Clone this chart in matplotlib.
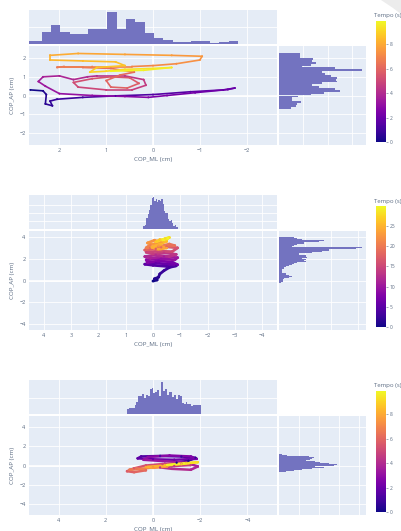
import numpy as np
import matplotlib.pyplot as plt
from matplotlib.collections import LineCollection
from matplotlib.patches import Polygon

plt.rcParams['font.family'] = ['Open Sans', 'DejaVu Sans']

W, H = 401, 531
BG = '#e5ecf6'
BAR = '#7373c0'
TXT = '#5b6b82'

# ---- panel 1 : COP trajectory (time s, ML cm, AP cm)
t1 = [0.0, 0.2, 0.35, 0.5, 0.6, 0.7, 0.8, 1.0, 1.2, 1.4,
      1.6, 1.8, 1.9, 2.0, 2.2, 2.4, 2.6, 2.8, 3.0, 3.2,
      3.3, 3.45, 3.6, 3.75, 3.9, 4.0, 4.1, 4.3, 4.5, 4.6,
      4.75, 4.9, 5.05, 5.15, 5.3, 5.45, 5.6, 5.7, 5.8, 5.9,
      6.0, 6.1, 6.2, 6.3, 6.45, 6.6, 6.7, 6.8, 6.95, 7.05,
      7.2, 7.35, 7.45, 7.6, 7.8, 8.0, 8.15, 8.25, 8.4, 8.55,
      8.65, 8.8, 8.95, 9.1, 9.25, 9.4, 9.55, 9.7, 9.9]
ml1 = [2.62, 2.35, 2.28, 2.30, 2.15, 2.20, 2.05, 1.50, 0.80, 0.00,
       -0.80, -1.50, -1.75, -1.60, -0.90, -0.30, 0.10, 0.60, 1.30, 2.00,
       2.30, 2.45, 2.35, 2.00, 1.70, 1.40, 1.20, 0.60, 0.20, 0.15,
       0.45, 1.00, 1.60, 1.70, 1.30, 0.90, 0.50, 0.30, 0.55, 0.90,
       1.00, 0.70, 0.40, 0.90, 1.50, 2.05, 1.90, 1.30, 0.45, 0.00,
       -0.50, -1.00, -1.05, -0.40, 0.60, 1.60, 2.20, 2.20, 1.50, 0.80,
       0.60, 1.20, 1.35, 1.00, 0.60, 0.00, -0.40, 0.20, 0.90]
ap1 = [0.30, 0.25, 0.05, -0.45, -0.55, -0.30, -0.20, -0.10, -0.02, 0.05,
       0.20, 0.30, 0.40, 0.32, 0.15, 0.00, -0.10, -0.05, 0.00, 0.10,
       0.50, 0.75, 1.00, 1.05, 0.85, 1.00, 1.05, 1.05, 0.85, 0.55,
       0.30, 0.30, 0.45, 0.70, 0.90, 1.00, 0.95, 0.65, 0.40, 0.45,
       0.80, 1.10, 1.25, 1.45, 1.50, 1.50, 1.55, 1.55, 1.55, 1.60,
       1.70, 1.90, 2.10, 2.15, 2.20, 2.25, 2.15, 1.90, 1.85, 1.80,
       1.60, 1.50, 1.25, 1.30, 1.40, 1.45, 1.50, 1.35, 1.30]
# marginal histograms (first bin edge, bin width, counts)
ml1_edge, ml1_bw = 2.78, -0.2
ml1_counts = [8, 8, 35, 55, 36, 30, 30, 43, 43, 96, 45, 75, 64, 32, 17, 12,
              7, 7, 10, 10, 4, 5, 9]
ap1_edge, ap1_bw = 2.3, -0.1
ap1_counts = [17, 17, 17, 28, 27, 30, 26, 19, 46, 68, 35, 38, 43, 48, 47,
              48, 35, 27, 33, 46, 50, 37, 26, 16, 11, 11, 18, 15, 14, 10]

# ---- panel 2
t2 = [0.0, 0.5, 1.0, 1.5, 2.0, 2.5, 3.0, 3.5, 4.0, 4.5,
      5.0, 5.5, 6.0, 6.5, 7.0, 7.5, 8.0, 8.5, 9.0, 9.5,
      10.0, 10.5, 11.0, 11.5, 12.0, 12.5, 13.0, 13.5, 14.0, 14.5,
      15.0, 15.5, 16.0, 16.5, 17.0, 17.5, 18.0, 18.5, 19.0, 19.5,
      20.0, 20.5, 21.0, 21.5, 22.0, 22.5, 23.0, 23.5, 24.0, 24.5,
      25.0, 25.5, 26.0, 26.5, 27.0, 27.5, 28.0, 28.5, 29.0, 29.9]
ml2 = [0.0, -0.15, -0.05, -0.2, -0.25, -0.4, -0.6, -0.85, -0.5, 0.0,
       0.3, -0.1, -0.6, -0.9, -0.7, -0.2, 0.2, 0.25, -0.3, -0.8,
       -0.9, -0.4, 0.1, 0.3, -0.1, -0.6, -0.85, -0.4, 0.0, 0.25,
       -0.2, -0.7, -0.9, -0.5, -0.1, 0.3, 0.1, -0.3, -0.8, -0.6,
       -0.2, 0.25, 0.1, -0.3, -0.05, 0.2, -0.2, -0.5, -0.2, 0.05,
       -0.3, -0.5, -0.25, -0.1, -0.3, -0.45, -0.6, -0.5, -0.35, -0.55]
ap2 = [-0.05, 0.05, 0.15, 0.3, 0.6, 0.9, 1.2, 1.35, 1.3, 1.4,
       1.5, 1.6, 1.5, 1.45, 1.7, 1.8, 1.65, 1.9, 2.0, 1.9,
       2.1, 2.2, 2.05, 2.2, 2.35, 2.2, 2.4, 2.55, 2.45, 2.6,
       2.7, 2.65, 3.0, 3.1, 2.9, 2.8, 3.0, 3.05, 3.2, 3.35,
       3.1, 3.0, 3.3, 3.5, 3.7, 3.45, 3.2, 3.0, 2.85, 3.05,
       3.4, 3.6, 3.75, 3.55, 3.7, 3.85, 3.95, 3.8, 3.75, 3.9]
ml2_edge, ml2_bw = 0.35, -0.05
ml2_counts = [16, 24, 70, 90, 120, 150, 190, 200, 176, 184, 164, 180, 172,
              184, 156, 110, 100, 96, 60, 50, 56, 36, 20, 24, 12]
ap2_edge, ap2_bw = 4.0, -0.1
ap2_counts = [28, 35, 44, 85, 76, 47, 35, 28, 25, 158, 146, 95, 95, 82, 63,
              38, 38, 51, 54, 44, 51, 47, 51, 35, 28, 25, 19, 13, 9, 6,
              5, 5, 6, 13, 14, 19, 25, 19, 9, 8, 8, 4]

# ---- panel 3
t3 = [0.0, 0.3, 0.6, 0.9, 1.2, 1.5, 1.7, 1.9, 2.1, 2.3,
      2.5, 2.7, 2.9, 3.1, 3.3, 3.5, 3.7, 3.9, 4.1, 4.3,
      4.5, 4.7, 4.9, 5.1, 5.3, 5.5, 5.7, 5.9, 6.1, 6.3,
      6.5, 6.8, 7.0, 7.3, 7.6, 8.0, 8.4, 8.8, 9.2, 9.5, 9.9]
ml3 = [-1.0, -1.5, -1.8, -1.2, -0.3, 0.5, 0.65, 0.0, -0.9, -1.85,
       -1.6, -0.7, 0.2, 0.4, -0.5, -1.4, -1.9, -1.6, -0.8, -0.3,
       -0.9, -1.6, -1.2, -0.4, 0.3, 0.8, 1.1, 0.8, 0.3, 0.7,
       1.0, 0.5, 0.0, -0.6, 0.0, 0.3, -0.5, -1.2, -1.9, -1.4, -0.6]
ap3 = [0.3, 0.5, 0.8, 0.95, 1.0, 0.95, 0.75, 0.65, 0.6, 0.7,
       0.95, 1.05, 0.9, 0.6, 0.45, 0.3, -0.1, -0.45, -0.35, -0.2,
       -0.05, 0.05, 0.2, 0.15, 0.0, -0.3, -0.6, -0.7, -0.5, -0.3,
       -0.45, -0.35, -0.2, -0.1, -0.25, -0.15, 0.0, 0.15, 0.35, 0.25, 0.05]
ml3_edge, ml3_bw = 1.1, -0.08
ml3_counts = [14, 20, 18, 18, 28, 38, 56, 57, 62, 50, 60, 56, 78, 80, 65, 68,
              73, 57, 100, 70, 76, 60, 67, 68, 52, 58, 45, 58, 55, 33, 32,
              38, 30, 30, 26, 28, 28, 28, 27]
ap3_edge, ap3_bw = 1.2, -0.05
ap3_counts = [10, 20, 25, 30, 45, 90, 110, 105, 115, 100, 85, 95, 100, 80,
              90, 110, 120, 125, 130, 150, 160, 175, 250, 165, 150, 125, 110,
              95, 135, 115, 100, 80, 70, 60, 45, 35, 20, 10]


def box(l, t, r, b):
    return [l / W, 1 - b / H, (r - l) / W, (b - t) / H]


def style(ax):
    ax.set_facecolor(BG)
    for s in ax.spines.values():
        s.set_visible(False)
    ax.grid(True, color='white', lw=0.6)
    ax.set_axisbelow(True)
    ax.tick_params(length=0, labelsize=4, colors=TXT, pad=2.5)


def panel(y0, t, ml, ap, ml_edge, ml_bw, ml_counts, ap_edge, ap_bw, ap_counts,
          lim, xt, yt, ct, top_grid, right_grid, lw):
    # y0 = pixel row of the top histogram's top edge
    xl, yl = (lim[0], -lim[0]), (-lim[1], lim[1])

    ax = fig.add_axes(box(29, y0 + 36, 277, y0 + 135))
    style(ax)
    ax.set_xlim(xl)
    ax.set_ylim(yl)
    ax.set_xticks(xt)
    ax.set_yticks(yt)
    ax.axhline(0, color='white', lw=1.2, zorder=0.6)
    ax.axvline(0, color='white', lw=1.2, zorder=0.6)
    pts = np.column_stack([ml, ap]).reshape(-1, 1, 2)
    segs = np.concatenate([pts[:-1], pts[1:]], axis=1)
    tt = np.array(t)
    lc = LineCollection(segs, cmap='plasma', lw=lw, capstyle='round', joinstyle='round')
    lc.set_array((tt[:-1] + tt[1:]) / 2)
    lc.set_clim(tt.min(), tt.max())
    ax.add_collection(lc)
    sc = ax.scatter(ml, ap, c=t, cmap='plasma', s=lw * 1.5, linewidths=0,
                    vmin=tt.min(), vmax=tt.max(), zorder=3)
    ax.set_xlabel('COP_ML (cm)', fontsize=4.5, color=TXT, labelpad=2.5)
    ax.set_ylabel('COP_AP (cm)', fontsize=4.5, color=TXT, labelpad=3)

    # top histogram
    axt = fig.add_axes(box(29, y0, 277, y0 + 34))
    style(axt)
    edges = ml_edge + ml_bw * np.arange(len(ml_counts))
    axt.bar(edges, ml_counts, width=ml_bw, align='edge', color=BAR, lw=0)
    axt.set_xlim(xl)
    axt.set_ylim(0, max(ml_counts) * 1.05)
    axt.set_xticks(xt)
    axt.set_yticks(top_grid)
    axt.set_xticklabels([])
    axt.set_yticklabels([])

    # right histogram
    axr = fig.add_axes(box(279, y0 + 36, 366, y0 + 135))
    style(axr)
    edges = ap_edge + ap_bw * np.arange(len(ap_counts))
    axr.barh(edges, ap_counts, height=ap_bw, align='edge', color=BAR, lw=0)
    axr.set_ylim(yl)
    axr.set_xlim(0, max(ap_counts) * 1.05)
    axr.set_yticks(yt)
    axr.set_xticks(right_grid)
    axr.set_xticklabels([])
    axr.set_yticklabels([])

    # colorbar
    cax = fig.add_axes(box(376, y0 + 11, 386, y0 + 132))
    cb = fig.colorbar(sc, cax=cax)
    cb.outline.set_visible(False)
    cb.set_ticks(ct)
    cb.ax.tick_params(labelsize=3.5, length=1.5, width=0.4, colors=TXT, pad=1)
    fig.text(374 / W, 1 - (y0 + 6) / H, 'Tempo (s)', fontsize=4.3, color=TXT,
             va='center', ha='left')


fig = plt.figure(figsize=(W / 100, H / 100), dpi=100)

panel(10, t1, ml1, ap1, ml1_edge, ml1_bw, ml1_counts, ap1_edge, ap1_bw, ap1_counts,
      (2.65, 2.65), [2, 1, 0, -1, -2], [-2, -1, 0, 1, 2], [0, 2, 4, 6, 8],
      [50], [20, 40, 60], 1.2)
panel(195, t2, ml2, ap2, ml2_edge, ml2_bw, ml2_counts, ap2_edge, ap2_bw, ap2_counts,
      (4.55, 4.55), [4, 3, 2, 1, 0, -1, -2, -3, -4], [-4, -2, 0, 2, 4],
      [0, 5, 10, 15, 20, 25], [50, 100, 150], [50, 100, 150], 2.0)
panel(380, t3, ml3, ap3, ml3_edge, ml3_bw, ml3_counts, ap3_edge, ap3_bw, ap3_counts,
      (5.25, 5.2), [4, 2, 0, -2, -4], [-4, -2, 0, 2, 4], [0, 2, 4, 6, 8],
      [50], [60, 120, 180, 240], 1.8)

# light grey corner mark from the scanned page
corner = [(381, 0), (401, 0), (401, 14), (393, 8)]
fig.patches.append(Polygon([(x / W, 1 - y / H) for x, y in corner],
                           closed=True, transform=fig.transFigure,
                           facecolor='#ececec', edgecolor='none'))

fig.savefig('out.png', dpi=100)
